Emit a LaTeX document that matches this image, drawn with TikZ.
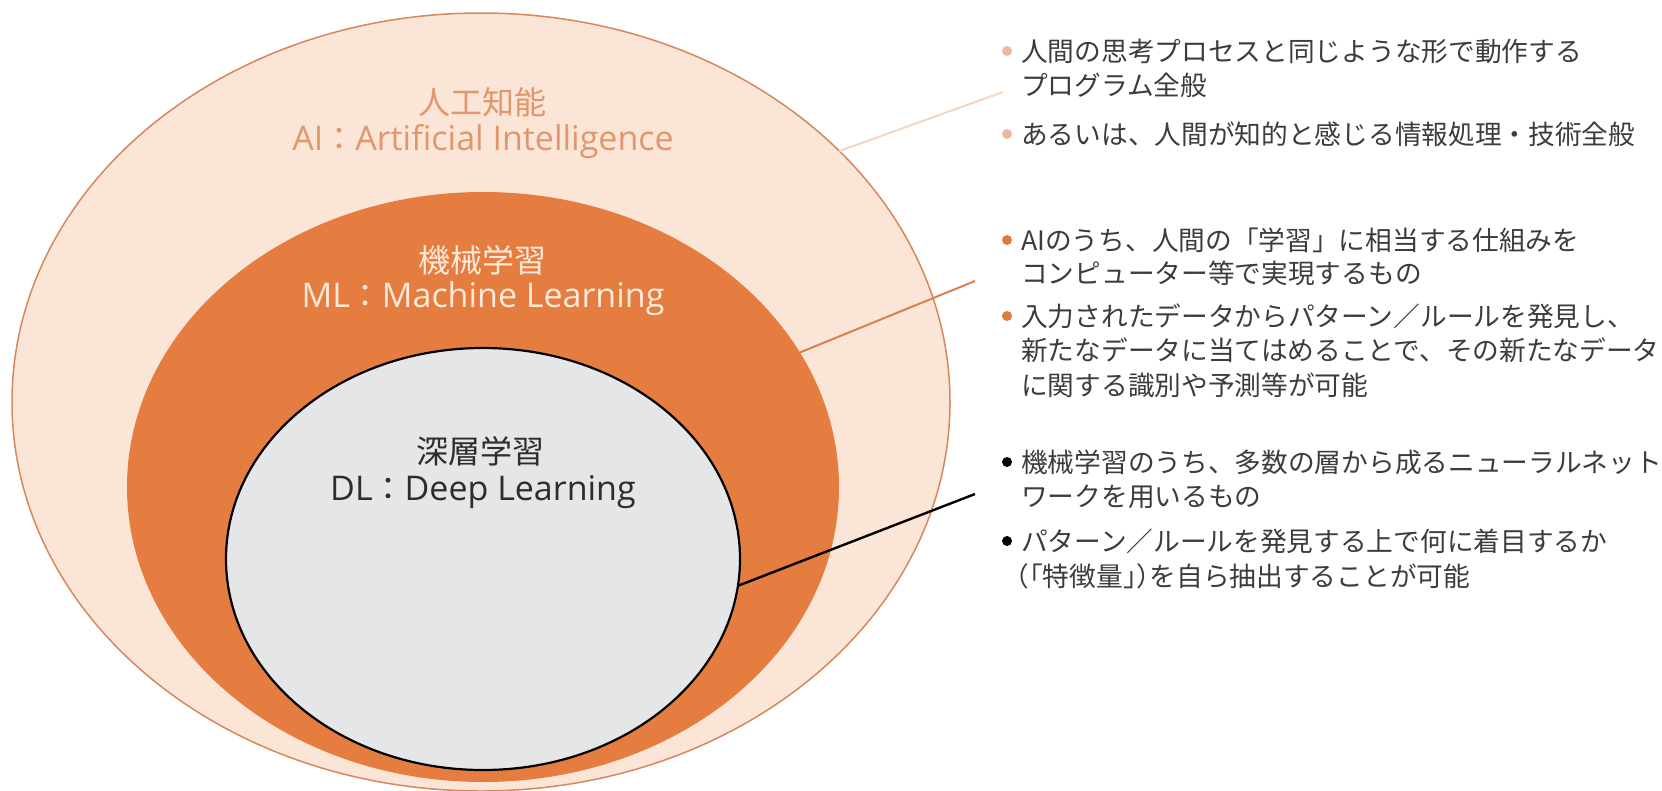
\documentclass[tikz,border=0pt]{standalone}
\usepackage{fontspec}
\setmainfont{Noto Sans CJK JP}
\newfontfamily\latf{Open Sans}
\usetikzlibrary{shapes.geometric}
\definecolor{peach}{RGB}{251,229,214}
\definecolor{outerline}{RGB}{214,136,92}
\definecolor{mlfill}{RGB}{230,125,64}
\definecolor{dlfill}{RGB}{229,230,232}
\definecolor{aitext}{RGB}{226,150,110}
\definecolor{mltext}{RGB}{252,233,216}
\definecolor{dltext}{RGB}{45,45,45}
\definecolor{bodytext}{RGB}{60,60,60}
\definecolor{aibullet}{RGB}{238,184,160}
\definecolor{mlbullet}{RGB}{224,123,57}
\definecolor{ailead}{RGB}{245,213,192}
\definecolor{mllead}{RGB}{217,129,78}
\newcommand{\halfw}[1]{{\addfontfeatures{RawFeature=+halt}#1}}
\tikzset{
  region/.style={ellipse, inner sep=0pt, outer sep=0pt},
  cjklabel/.style={anchor=base, inner sep=0pt, font=\fontsize{32}{36}\selectfont},
  latlabel/.style={anchor=base, inner sep=0pt, font=\fontsize{34}{38}\selectfont},
  bodyline/.style={anchor=base west, inner sep=0pt, text=bodytext, font=\fontsize{26.7}{34}\selectfont},
  bulletdot/.style={circle, inner sep=0pt, minimum size=10pt},
  leader/.style={line width=2pt}
}
\begin{document}
\begin{tikzpicture}[x=1pt,y=-1pt]
\useasboundingbox (0,0) rectangle (1662,790);
\fill[white] (0,0) rectangle (1662,790);
% regions
\node[region, fill=peach, draw=outerline, line width=1.5pt, minimum width=938pt, minimum height=778pt] (ai) at (481,402) {};
\node[region, fill=mlfill, minimum width=712pt, minimum height=590pt] (ml) at (483,487) {};
\node[region, fill=dlfill, draw=black, line width=2.2pt, minimum width=514pt, minimum height=422pt] (dl) at (483,559) {};
% region labels
\node[cjklabel, text=aitext] (aij) at (482,114) {人工知能};
\node[latlabel, text=aitext] (aie) at (483,150) {{\latf AI}{\fontsize{32}{36}\selectfont ：}{\latf Artificial Intelligence}};
\node[cjklabel, text=mltext] (mlj) at (482,272) {機械学習};
\node[latlabel, text=mltext] (mle) at (483,307) {{\latf ML}{\fontsize{32}{36}\selectfont ：}{\latf Machine Learning}};
\node[cjklabel, text=dltext] (dlj) at (480,463) {深層学習};
\node[latlabel, text=dltext] (dle) at (483,500) {{\latf DL}{\fontsize{32}{36}\selectfont ：}{\latf Deep Learning}};
% leader end points
\coordinate (aiend) at (1003,92);
\coordinate (mlend) at (975,281);
\coordinate (dlend) at (975,494);
\draw[leader, ailead] (ai.35.3) -- (aiend);
\draw[leader, mllead] (ml.23.5) -- (mlend);
\draw[leader, black, line width=2.4pt] (dl.-6.3) -- (dlend);
% bullets and text
\node[bulletdot, fill=aibullet] (b1) at (1007,51) {};
\node[bodyline] (t1a) at (1021,61) {人間の思考プロセスと同じような形で動作する};
\node[bodyline] (t1b) at (1021,95) {プログラム全般};
\node[bulletdot, fill=aibullet] (b2) at (1007,134) {};
\node[bodyline] (t2a) at (1021,144) {あるいは、人間が知的と感じる情報処理・技術全般};
\node[bulletdot, fill=mlbullet] (b3) at (1007,240) {};
\node[bodyline] (t3a) at (1021,250) {AIのうち、人間の「学習」に相当する仕組みを};
\node[bodyline] (t3b) at (1021,283) {コンピューター等で実現するもの};
\node[bulletdot, fill=mlbullet] (b4) at (1007,316) {};
\node[bodyline] (t4a) at (1021,326) {入力されたデータからパターン／ルールを発見し、};
\node[bodyline] (t4b) at (1021,360) {新たなデータに当てはめることで、その新たなデータ};
\node[bodyline] (t4c) at (1021,395) {に関する識別や予測等が可能};
\node[bulletdot, fill=black] (b5) at (1007,462) {};
\node[bodyline] (t5a) at (1021,472) {機械学習のうち、多数の層から成るニューラルネット};
\node[bodyline] (t5b) at (1021,506) {ワークを用いるもの};
\node[bulletdot, fill=black] (b6) at (1007,541) {};
\node[bodyline] (t6a) at (1021,551) {パターン／ルールを発見する上で何に着目するか};
\node[bodyline] (t6b) at (1016,586) {\halfw{（「}特徴量\halfw{」）}を自ら抽出することが可能};
\end{tikzpicture}
\end{document}
